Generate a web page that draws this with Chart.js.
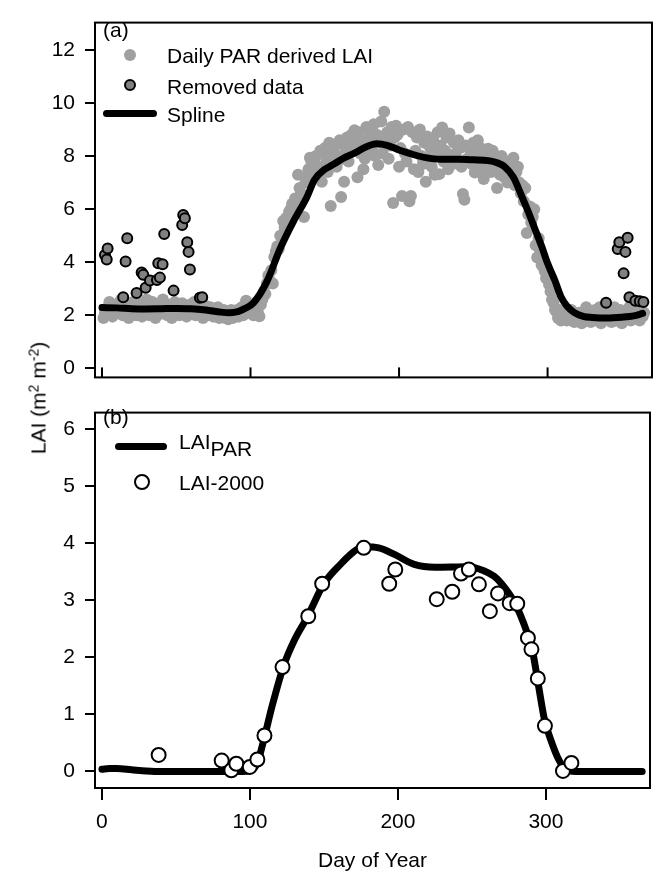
<!DOCTYPE html>
<html>
<head>
<meta charset="utf-8">
<script src="https://cdn.jsdelivr.net/npm/chart.js@4"></script>
<style>
  body { margin: 0; background: #fff; font-family: 'Liberation Sans', Arial, sans-serif; }
  #wrap { position: relative; width: 659px; height: 879px; }
  canvas { position: absolute; left: 0; }
  .txt { position: absolute; font-size: 21px; line-height: 1; color: #000; transform: translateY(-50%); white-space: nowrap; }
  .dot { position: absolute; border-radius: 50%; box-sizing: border-box; }
  .seg { position: absolute; height: 7px; background: #000; border-radius: 4px; }
  #ytitle { position: absolute; left: 38px; top: 398px; font-size: 21px; white-space: nowrap;
            transform: translate(-50%, -50%) rotate(-90deg); }
  sup { font-size: 14px; vertical-align: 7px; }
  sub { font-size: 21px; vertical-align: -7px; }
</style>
</head>
<body>
<div id="wrap">
  <canvas id="chartA" width="659" height="400" style="top:0"></canvas>
  <canvas id="chartB" width="659" height="489" style="top:390px"></canvas>

  <div class="txt" style="left:103px; top:29px">(a)</div>
  <div class="dot" style="left:124px; top:49px; width:12px; height:12px; background:#a0a0a0"></div>
  <div class="txt" style="left:167px; top:55px">Daily PAR derived LAI</div>
  <div class="dot" style="left:124px; top:79px; width:12px; height:12px; background:#808080; border:2px solid #000"></div>
  <div class="txt" style="left:167px; top:86px">Removed data</div>
  <div class="seg" style="left:103px; top:110px; width:54px"></div>
  <div class="txt" style="left:167px; top:114px">Spline</div>

  <div class="txt" style="left:103px; top:416px">(b)</div>
  <div class="seg" style="left:115px; top:443px; width:52px"></div>
  <div class="txt" style="left:179px; top:445px">LAI<sub>PAR</sub></div>
  <div class="dot" style="left:134px; top:474px; width:16px; height:16px; background:#fff; border:2px solid #000"></div>
  <div class="txt" style="left:179px; top:482px">LAI-2000</div>

  <div id="ytitle">LAI (m<sup>2</sup> m<sup>-2</sup>)</div>
</div>
<script>
const xTicks = [0, 100, 200, 300]
const yTicksA = [0, 2, 4, 6, 8, 10, 12]
const yTicksB = [0, 1, 2, 3, 4, 5, 6]

// daily PAR derived LAI, one value per day starting at day 1
const parStartDay = 1
const parLai = [
  1.90,2.10,2.00,2.30,2.50,2.20,1.95,2.40,2.10,2.30,
  2.20,2.50,2.60,2.00,2.30,2.10,2.40,1.90,2.20,2.35,
  2.50,2.10,2.00,2.45,2.20,2.30,1.95,2.10,2.40,2.60,
  2.20,2.00,2.30,2.50,2.15,1.90,2.40,2.20,2.05,2.30,
  2.60,2.10,2.30,2.00,2.40,2.20,1.90,2.35,2.50,2.10,
  2.30,2.00,2.20,2.45,2.10,2.30,1.95,2.20,2.40,2.10,
  2.30,2.50,2.00,2.20,2.40,2.15,2.30,1.90,2.10,2.35,
  2.20,2.00,2.30,2.10,1.95,2.20,2.00,2.30,1.90,2.10,
  2.00,2.20,1.90,2.10,1.85,2.00,2.20,1.90,2.10,2.00,
  2.20,1.95,2.10,2.30,2.00,2.20,2.55,2.10,2.30,2.25,
  2.30,2.00,2.20,2.50,2.10,1.96,2.40,2.60,2.90,2.80,
  3.20,3.50,3.30,3.70,3.20,4.20,4.40,4.60,4.50,5.00,
  5.00,5.55,5.30,5.67,5.50,5.90,6.00,6.20,5.80,6.40,
  6.23,7.30,6.80,6.60,6.50,5.70,7.00,7.20,7.50,7.94,
  7.80,7.77,7.40,8.00,7.20,7.60,8.20,7.03,7.50,8.30,
  7.90,7.40,8.50,6.12,7.80,8.10,8.40,7.60,8.00,8.60,
  6.46,7.90,7.03,8.30,8.70,7.80,8.20,8.80,8.50,8.97,
  8.40,7.20,8.90,8.10,8.60,7.50,7.90,9.10,8.30,8.70,
  8.90,8.20,9.20,8.00,8.80,7.66,8.50,9.30,8.10,9.67,
  8.60,8.90,7.90,8.40,9.10,6.23,8.70,9.14,8.80,7.60,
  8.30,6.50,9.00,8.10,7.80,9.10,6.30,6.50,8.90,7.50,
  8.20,8.70,7.40,9.00,8.00,7.70,8.50,7.03,8.74,7.90,
  8.30,7.60,8.60,7.30,8.10,8.90,7.32,8.40,9.08,7.80,
  8.20,8.70,7.50,8.85,8.00,7.70,8.50,8.10,7.90,8.60,
  8.30,7.60,6.57,6.35,8.40,7.90,9.08,8.20,7.70,8.50,
  7.38,8.00,8.60,7.80,8.30,7.50,7.14,8.10,7.70,8.28,
  7.90,7.40,8.20,7.60,8.00,6.80,7.70,7.30,8.00,7.50,
  7.20,7.80,7.00,7.60,7.30,7.10,7.94,6.90,7.40,7.60,
  7.00,6.60,6.90,6.30,6.80,5.10,5.80,6.10,5.50,5.70,
  6.00,4.64,4.18,4.90,4.40,3.90,4.10,3.67,3.40,3.50,
  3.16,2.90,2.60,2.47,2.20,2.13,1.90,2.20,1.80,2.00,
  1.90,2.10,1.80,2.00,1.85,2.20,1.90,1.75,2.00,1.80,
  2.10,1.90,1.70,2.00,1.85,2.30,1.90,2.10,1.75,2.00,
  1.80,2.20,2.00,1.90,2.30,1.70,2.10,1.85,2.00,2.20,
  1.90,2.10,1.75,2.00,2.30,1.80,2.10,1.90,2.20,1.70,
  2.00,1.85,2.10,1.90,2.30,1.80,2.00,2.20,1.90,2.10,
  2.00,1.80,2.20,1.95,2.10
]

const removedDays = [2, 3.2, 3.8, 14.3, 15.9, 17, 23.3, 26.7, 27.8, 29.4, 32.3, 37, 37.9, 39, 40.8, 41.9,
  48.2, 54, 54.7, 55.8, 57.4, 58.3, 59.2, 65.9, 67.5,
  339.4, 347.2, 348.3, 351.2, 352.4, 353.9, 355.1, 359.1, 362.1, 364.5]
const removedLai = [4.27, 4.10, 4.52, 2.68, 4.03, 4.90, 2.84, 3.61, 3.53, 3.04, 3.31, 3.33, 3.96, 3.42, 3.92, 5.06,
  2.93, 5.40, 5.78, 5.66, 4.75, 4.39, 3.73, 2.66, 2.68,
  2.47, 4.50, 4.75, 3.58, 4.39, 4.92, 2.68, 2.55, 2.53, 2.50]

const splineDays = [0, 10, 20, 30, 40, 50, 60, 70, 80, 86, 92, 96, 102, 111, 120, 129, 138, 143, 150, 155, 162, 170,
  178, 185, 192, 200, 210, 218, 228, 240, 250, 260, 266, 271, 277, 282, 287, 291, 296, 300, 305, 309, 313,
  318, 324, 330, 340, 350, 358, 364]
const splineLai = [2.29, 2.28, 2.25, 2.24, 2.25, 2.26, 2.25, 2.20, 2.12, 2.10, 2.15, 2.25, 2.47, 3.27, 4.52, 5.55, 6.46, 7.10, 7.50, 7.66, 7.90, 8.11,
  8.35, 8.46, 8.40, 8.23, 8.05, 7.94, 7.88, 7.88, 7.86, 7.83, 7.75, 7.60, 7.20, 6.57, 5.90, 5.32, 4.60, 3.96, 3.30, 2.70, 2.35,
  2.10, 1.96, 1.92, 1.90, 1.93, 1.98, 2.07]

const laiParDays = [0, 5, 10, 20, 30, 40, 60, 80, 95, 100, 105, 109, 115, 123, 130, 139, 149, 153, 160, 170, 177, 187,
  198, 211, 225, 247, 258, 265, 270, 279, 287, 291, 295, 299, 304, 308, 313, 320, 340, 365]
const laiParValues = [0.04, 0.05, 0.05, 0.03, 0.01, 0.0, 0.0, 0.0, 0.0, 0.01, 0.15, 0.52, 1.15, 1.87, 2.30, 2.72, 3.25, 3.40, 3.60, 3.85, 3.94, 3.92,
  3.80, 3.63, 3.58, 3.59, 3.52, 3.42, 3.29, 2.95, 2.45, 2.10, 1.50, 0.91, 0.50, 0.24, 0.04, 0.0, 0.0, 0.0]

const lai2000Days = [38.3, 80.9, 87.4, 90.8, 99.9, 105, 109.8, 122, 139.4, 148.8, 176.9, 194.1, 198.2, 226.2, 236.7,
  242.6, 247.9, 254.7, 262.1, 267.6, 275.5, 280.6, 287.8, 290.2, 294.5, 299.3, 311.5, 317.2]
const lai2000Values = [0.29, 0.19, 0.02, 0.135, 0.08, 0.21, 0.63, 1.83, 2.72, 3.29, 3.92, 3.29, 3.54, 3.02, 3.15,
  3.47, 3.54, 3.28, 2.81, 3.12, 2.95, 2.94, 2.34, 2.14, 1.63, 0.80, 0.01, 0.15]

const pts = (xs, ys) => xs.map((x, i) => ({x: x, y: ys[i]}))

Chart.defaults.font.family = "'Liberation Sans', Arial, sans-serif"
Chart.defaults.font.size = 21
Chart.defaults.color = '#000'

// box round the plot area, plus the inward x ticks of panel (a)
const framePlugin = {
  id: 'frame',
  afterDatasetsDraw(chart, args, opts) {
    const {ctx, chartArea: a, scales} = chart
    ctx.save()
    ctx.strokeStyle = '#000'
    ctx.lineWidth = 2
    ctx.strokeRect(a.left, a.top, a.right - a.left, a.bottom - a.top)
    if (opts.innerTicks) {
      xTicks.forEach(v => {
        const px = scales.x.getPixelForValue(v)
        ctx.beginPath()
        ctx.moveTo(px, a.bottom)
        ctx.lineTo(px, a.bottom - 10)
        ctx.stroke()
      })
    }
    ctx.restore()
  }
}

const yAxis = (min, max, ticks) => ({
  type: 'linear',
  min: min,
  max: max,
  afterBuildTicks: s => { s.ticks = ticks.map(v => ({value: v})) },
  afterFit: s => { s.width = 95 },
  grid: { drawOnChartArea: false, tickLength: 10, color: '#000', lineWidth: 2 },
  border: { display: false },
  ticks: { padding: 10, color: '#000' }
})

// =========================== chart (a) =================
new Chart(document.getElementById('chartA'), {
  type: 'scatter',
  data: {
    datasets: [
      {
        type: 'line',
        data: pts(splineDays, splineLai),
        borderColor: '#000',
        borderWidth: 7,
        borderCapStyle: 'round',
        pointRadius: 0,
        cubicInterpolationMode: 'monotone',
        order: 0
      },
      {
        data: pts(removedDays, removedLai),
        backgroundColor: '#808080',
        borderColor: '#000',
        borderWidth: 2,
        pointRadius: 5,
        order: 1
      },
      {
        data: parLai.map((v, i) => ({x: parStartDay + i, y: v})),
        backgroundColor: '#a0a0a0',
        borderWidth: 0,
        pointRadius: 6,
        order: 2
      }
    ]
  },
  options: {
    responsive: false,
    animation: false,
    layout: { padding: { top: 8, right: 6, bottom: 1, left: 0 } },
    plugins: { legend: { display: false }, tooltip: { enabled: false }, frame: { innerTicks: true } },
    scales: {
      x: { type: 'linear', min: -4.7, max: 370.3, display: false },
      y: yAxis(-0.34, 13.03, yTicksA)
    }
  },
  plugins: [framePlugin]
})

// =========================== chart (b) =================
new Chart(document.getElementById('chartB'), {
  type: 'scatter',
  data: {
    datasets: [
      {
        data: pts(lai2000Days, lai2000Values),
        backgroundColor: '#fff',
        borderColor: '#000',
        borderWidth: 2,
        pointRadius: 7,
        order: 0
      },
      {
        type: 'line',
        data: pts(laiParDays, laiParValues),
        borderColor: '#000',
        borderWidth: 7,
        borderCapStyle: 'round',
        pointRadius: 0,
        cubicInterpolationMode: 'monotone',
        order: 1
      }
    ]
  },
  options: {
    responsive: false,
    animation: false,
    layout: { padding: { top: 9, right: 6, bottom: 0, left: 0 } },
    plugins: { legend: { display: false }, tooltip: { enabled: false }, frame: { innerTicks: false } },
    scales: {
      x: {
        type: 'linear',
        min: -4.7,
        max: 370.3,
        afterBuildTicks: s => { s.ticks = xTicks.map(v => ({value: v})) },
        afterFit: s => { s.height = 91 },
        grid: { drawOnChartArea: false, tickLength: 12, color: '#000', lineWidth: 2 },
        border: { display: false },
        ticks: { padding: 10, color: '#000', maxRotation: 0 },
        title: { display: true, text: 'Day of Year', color: '#000', padding: { top: 0, bottom: 5 } }
      },
      y: yAxis(-0.29, 6.29, yTicksB)
    }
  },
  plugins: [framePlugin]
})
</script>
</body>
</html>
